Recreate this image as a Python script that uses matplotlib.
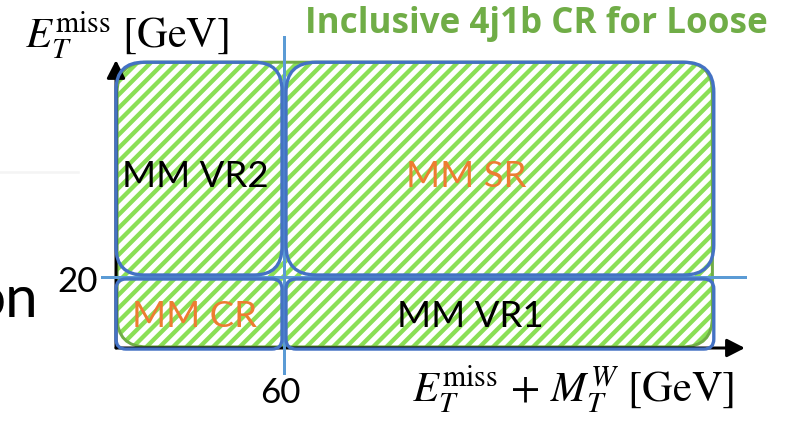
import matplotlib
matplotlib.use('Agg')
import matplotlib.pyplot as plt
from matplotlib.patches import FancyBboxPatch
from matplotlib.lines import Line2D

# ######### Region definition (GeV) #########

met_cut = 20          # E_T^miss cut
sum_cut = 60          # E_T^miss + M_T^W cut
x_reach = 213.5       # schematic end of the plane
y_reach = 80.5

region_names = ['MM VR2', 'MM SR', 'MM CR', 'MM VR1']
region_x = [(0, sum_cut), (sum_cut, x_reach), (0, sum_cut), (sum_cut, x_reach)]
region_y = [(met_cut, y_reach), (met_cut, y_reach), (0, met_cut), (0, met_cut)]

x_tick_label = str(sum_cut)
y_tick_label = str(met_cut)
title = 'Inclusive 4j1b CR for Loose'

######### Styles #########

BLUE = '#4472C4'
LIGHT_BLUE = '#5B9BD5'
ORANGE = '#ED7D31'
DARK_GREEN = '#70AD47'
HATCH_GREEN = '#8ADF55'
SANS = ['Lato', 'DejaVu Sans']

label_colors = ['black', ORANGE, ORANGE, 'black']
corner_px = [28, 30, 10, 10]
label_pos = [(28.2, 45.3), (125.0, 45.3), (28.2, 5.9), (126.4, 5.9)]

plt.rcParams['mathtext.fontset'] = 'stix'
plt.rcParams['hatch.linewidth'] = 2.6

W, H, DPI = 787, 421, 120
PX_X, PX_Y = 2.8, 3.55      # pixels per GeV on each axis
X0, Y0 = 116, 348           # origin in pixels from the top-left corner

fig = plt.figure(figsize=(W / DPI, H / DPI), dpi=DPI)
ax = fig.add_axes([0, 0, 1, 1])
ax.set_xlim(-X0 / PX_X, (W - X0) / PX_X)
ax.set_ylim(-(H - Y0) / PX_Y, Y0 / PX_Y)
ax.axis('off')

aspect = PX_X / PX_Y
gap_x = 2 / PX_X
gap_y = 2 / PX_Y


def rounded(x0, x1, y0, y1, r_px, **kw):
    return FancyBboxPatch((x0, y0), x1 - x0, y1 - y0,
                          boxstyle=f'round,pad=0,rounding_size={r_px / PX_X}',
                          mutation_aspect=aspect, **kw)


# inclusive CR: hatched area with its own outline
ax.add_patch(rounded(0.4, x_reach - 0.5, 0.3, y_reach, 30, facecolor='white',
                     edgecolor=HATCH_GREEN, hatch='///', lw=0, zorder=1))
ax.add_patch(rounded(0.4, x_reach - 0.5, 0.3, y_reach, 30, fill=False,
                     edgecolor=DARK_GREEN, lw=1.8, zorder=2))

# axes with arrow heads
ax.annotate('', xy=(0, 81.1), xytext=(0, 0),
            arrowprops=dict(arrowstyle='-|>,head_length=0.45,head_width=0.23',
                            mutation_scale=20, lw=1.8, color='black',
                            shrinkA=0, shrinkB=0), zorder=3)
ax.annotate('', xy=(224.6, 0), xytext=(0, 0),
            arrowprops=dict(arrowstyle='-|>,head_length=0.45,head_width=0.23',
                            mutation_scale=20, lw=1.8, color='black',
                            shrinkA=0, shrinkB=0), zorder=3)

# cut lines
ax.plot([sum_cut, sum_cut], [-7.0, 87.6], color=LIGHT_BLUE, lw=1.8, zorder=4)
ax.plot([-5.0, 224.6], [met_cut, met_cut], color=LIGHT_BLUE, lw=1.8, zorder=4)

# the four MM regions
for (xa, xb), (ya, yb), r, name, c, (tx, ty) in zip(region_x, region_y, corner_px,
                                                    region_names, label_colors, label_pos):
    xa2 = xa + gap_x if xa == sum_cut else xa
    xb2 = xb - gap_x if xb == sum_cut else xb
    ya2 = ya + gap_y if ya == met_cut else ya - 0.3
    yb2 = yb - gap_y if yb == met_cut else yb
    ax.add_patch(rounded(xa2, xb2, ya2, yb2, r, fill=False, edgecolor=BLUE,
                         lw=2.0, zorder=5))
    ax.text(tx, ty, name, ha='center', va='baseline', color=c, fontsize=22,
            family=SANS, zorder=6)

# cut values
ax.text(sum_cut - 1.4, -15.5, x_tick_label, ha='center', va='baseline',
        fontsize=21, family=SANS)
ax.text(-6.5, 15.8, y_tick_label, ha='right', va='baseline',
        fontsize=21, family=SANS)

# axis titles and heading
fig.text(25 / W, 1 - 48 / H, r'$E_T^{\mathrm{miss}}\ [\mathrm{GeV}]$',
         ha='left', va='baseline', fontsize=25.5)
fig.text(412 / W, 1 - 402 / H,
         r'$E_T^{\mathrm{miss}}\,+\,M_T^W\ [\mathrm{GeV}]$',
         ha='left', va='baseline', fontsize=25.5)
fig.text(536 / W, 1 - 33 / H, title, ha='center', va='baseline', fontsize=21,
         weight='bold', color=DARK_GREEN, family=['Open Sans', 'DejaVu Sans'])

# leftovers from the slide underneath
fig.text(38 / W, 1 - 317 / H, 'on', ha='right', va='baseline', fontsize=35,
         family=SANS)
fig.add_artist(Line2D([0, 78 / W], [1 - 172 / H] * 2, color='#F4F4F4', lw=1.5))

fig.savefig('out.png', dpi=DPI)
